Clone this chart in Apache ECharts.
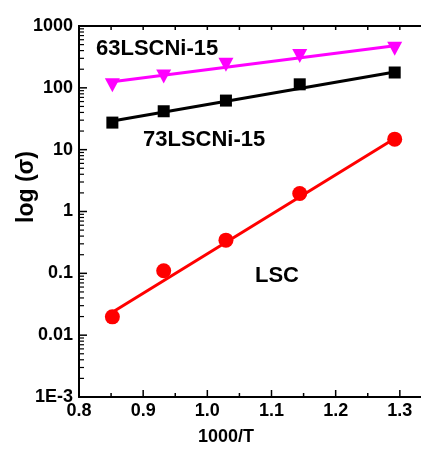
<!DOCTYPE html>
<html>
<head>
<meta charset="utf-8">
<script src="https://cdn.jsdelivr.net/npm/echarts@6/dist/echarts.min.js"></script>
<style>html,body{margin:0;padding:0;background:#fff}#c{width:421px;height:449px}</style>
</head>
<body>
<div id="c"></div>
<script>
// Data
var xVals = [0.852, 0.932, 1.029, 1.144, 1.292];
var lsc63 = [110, 153, 237, 327, 427];
var lsc73 = [27.4, 41.8, 62.2, 114, 177];
var lsc = [0.0198, 0.11, 0.344, 1.96, 14.8];
// fitted line end points
var fitX = [0.852, 1.292];
var fit63 = [125, 480];
var fit73 = [29, 180];
var fitLsc = [0.0235, 15.2];
// ticks and tick labels
var xTicks = [0.8, 0.9, 1.0, 1.1, 1.2, 1.3];
var xMinor = [0.85, 0.95, 1.05, 1.15, 1.25];
var yDecades = [0.001, 0.01, 0.1, 1, 10, 100, 1000];
var yTickLabels = ['1E-3', '0.01', '0.1', '1', '10', '100', '1000'];
var X_MIN = 0.8, X_MAX = 1.4, Y_MIN = 0.001, Y_MAX = 1000;

function pairs(xs, ys) { return xs.map(function (x, i) { return [x, ys[i]]; }); }
var yMinor = [];
yDecades.slice(0, -1).forEach(function (d) { for (var k = 2; k <= 9; k++) yMinor.push(d * k); });

var FONT = 'Arial, "Liberation Sans", sans-serif';
var texts = [
  { type: 'text', left: 96, top: 38, style: { text: '63LSCNi-15', fontFamily: FONT, fontWeight: 'bold', fontSize: 22, fill: '#000' } },
  { type: 'text', left: 143, top: 129, style: { text: '73LSCNi-15', fontFamily: FONT, fontWeight: 'bold', fontSize: 22, fill: '#000' } },
  { type: 'text', left: 255, top: 265, style: { text: 'LSC', fontFamily: FONT, fontWeight: 'bold', fontSize: 22, fill: '#000' } },
  { type: 'text', x: 226, y: 437, style: { text: '1000/T', align: 'center', verticalAlign: 'middle', fontFamily: FONT, fontWeight: 'bold', fontSize: 18, fill: '#000' } },
  { type: 'text', x: 27, y: 187, rotation: Math.PI / 2, style: { text: 'log (σ)', align: 'center', verticalAlign: 'middle', fontFamily: FONT, fontWeight: 'bold', fontSize: 23, fill: '#000' } }
];
var chart = echarts.init(document.getElementById('c'));
chart.setOption({
  animation: false,
  grid: { left: 79, top: 26, right: -43, bottom: 52, outerBoundsMode: 'none' },
  xAxis: [{
    type: 'value', min: X_MIN, max: X_MAX, interval: 0.1,
    axisLine: { show: true, lineStyle: { color: '#000', width: 2 } },
    axisTick: { show: false },
    splitLine: { show: false },
    axisLabel: { show: true, margin: 5, fontFamily: FONT, fontWeight: 'bold', fontSize: 18, color: '#000',
      formatter: function (v) { return (+v).toFixed(1); } }
  }],
  yAxis: [{
    type: 'log', min: Y_MIN, max: Y_MAX,
    axisLine: { show: true, lineStyle: { color: '#000', width: 2 } },
    axisTick: { show: false },
    splitLine: { show: false },
    axisLabel: { margin: 6, fontFamily: FONT, fontWeight: 'bold', fontSize: 18, color: '#000',
      formatter: function (v) { var s = yTickLabels[Math.round(Math.log10(v)) + 3]; return s == null ? '' : s; } }
  }],
  series: [
    { type: 'line', data: pairs(fitX, fit63), showSymbol: false, lineStyle: { color: '#FF00FF', width: 3 } },
    { type: 'line', data: pairs(fitX, fit73), showSymbol: false, lineStyle: { color: '#000', width: 3 } },
    { type: 'line', data: pairs(fitX, fitLsc), showSymbol: false, lineStyle: { color: '#FF0000', width: 3 } },
    { type: 'scatter', data: pairs(xVals, lsc63), symbol: 'triangle', symbolRotate: 180, symbolSize: [15, 14], itemStyle: { color: '#FF00FF', opacity: 1 } },
    { type: 'scatter', data: pairs(xVals, lsc73), symbol: 'rect', symbolSize: 12, itemStyle: { color: '#000', opacity: 1 } },
    { type: 'scatter', data: pairs(xVals, lsc), symbol: 'circle', symbolSize: 15, itemStyle: { color: '#FF0000', opacity: 1 } }
  ],
  graphic: texts
});

// Frame top line and tick marks as graphic lines, positioned through the axes' scales
function px(x, y) { return chart.convertToPixel({ gridIndex: 0 }, [x, y]); }
var marks = [];
function seg(x1, y1, x2, y2, w) {
  marks.push({ type: 'line', silent: true, shape: { x1: x1, y1: y1, x2: x2, y2: y2 }, style: { stroke: '#000', lineWidth: w } });
}
try {
  var tl = px(X_MIN, Y_MAX), tr = px(X_MAX, Y_MAX);
  seg(tl[0] - 1, tl[1], tr[0], tr[1], 2);
  yDecades.forEach(function (v) { var p = px(X_MIN, v); seg(p[0], p[1], p[0] + 8, p[1], 1.5); });
  yMinor.forEach(function (v) { var p = px(X_MIN, v); seg(p[0], p[1], p[0] + 5, p[1], 1.2); });
  xTicks.forEach(function (v) { var p = px(v, Y_MIN); seg(p[0], p[1], p[0], p[1] - 7, 1.5); });
  xMinor.forEach(function (v) { var p = px(v, Y_MIN); seg(p[0], p[1], p[0], p[1] - 4, 1.5); });
  xTicks.concat(xMinor).forEach(function (v) { var p = px(v, Y_MAX); seg(p[0], p[1], p[0], p[1] + 4, 1.5); });
} catch (e) {}
chart.setOption({ graphic: texts.concat(marks) });
</script>
</body>
</html>
